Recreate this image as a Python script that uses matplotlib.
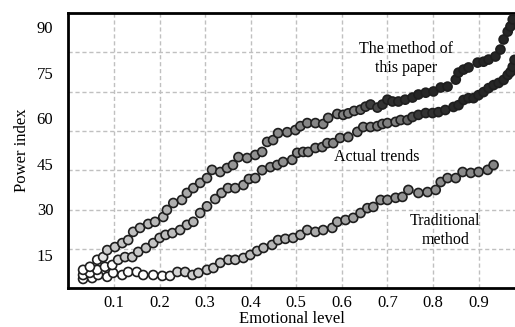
import matplotlib
matplotlib.use("Agg")
import matplotlib.pyplot as plt
import numpy as np
from matplotlib.colors import LinearSegmentedColormap, Normalize

plt.rcParams['font.family'] = ['Liberation Serif', 'DejaVu Serif']

# data
method_x = [0.032, 0.047, 0.063, 0.076, 0.085, 0.102, 0.118, 0.131, 0.142, 0.157,
            0.175, 0.190, 0.208, 0.216, 0.230, 0.249, 0.260, 0.274, 0.289, 0.304,
            0.315, 0.333, 0.348, 0.361, 0.373, 0.392, 0.410, 0.425, 0.436, 0.449,
            0.460, 0.480, 0.498, 0.509, 0.524, 0.542, 0.559, 0.570, 0.590, 0.603,
            0.614, 0.627, 0.641, 0.652, 0.663, 0.678, 0.689, 0.700, 0.711, 0.724,
            0.739, 0.755, 0.768, 0.784, 0.801, 0.817, 0.832, 0.850, 0.856, 0.867,
            0.878, 0.898, 0.911, 0.922, 0.937, 0.948, 0.955, 0.964, 0.970, 0.975]
method_y = [10.1, 11.1, 13.4, 14.3, 16.6, 17.6, 18.9, 19.9, 22.6, 23.9,
            25.2, 25.9, 27.5, 29.8, 32.1, 33.1, 35.4, 37.0, 38.7, 40.3,
            43.0, 42.3, 43.6, 44.6, 47.2, 46.9, 47.9, 48.9, 52.2, 52.8,
            55.1, 55.4, 56.1, 57.4, 58.4, 58.4, 58.1, 60.1, 61.4, 61.1,
            61.6, 62.4, 62.8, 63.8, 64.5, 63.5, 64.5, 66.1, 65.5, 65.5,
            66.1, 66.8, 67.8, 68.4, 68.8, 70.1, 70.4, 72.7, 75.0, 76.0,
            76.7, 78.3, 78.6, 79.3, 80.3, 82.6, 85.9, 88.5, 90.2, 92.5]

actual_x = [0.032, 0.047, 0.063, 0.080, 0.096, 0.109, 0.124, 0.140, 0.153, 0.170,
            0.186, 0.200, 0.213, 0.228, 0.245, 0.260, 0.274, 0.289, 0.304, 0.322,
            0.336, 0.350, 0.366, 0.384, 0.396, 0.410, 0.425, 0.443, 0.458, 0.471,
            0.491, 0.502, 0.515, 0.526, 0.542, 0.557, 0.568, 0.581, 0.596, 0.614,
            0.634, 0.647, 0.663, 0.678, 0.689, 0.700, 0.718, 0.729, 0.744, 0.755,
            0.768, 0.784, 0.799, 0.812, 0.827, 0.845, 0.856, 0.867, 0.878, 0.889,
            0.900, 0.911, 0.922, 0.933, 0.944, 0.955, 0.964, 0.970, 0.975, 0.979]
actual_y = [8.4, 9.1, 10.1, 11.1, 11.7, 13.4, 14.3, 14.3, 16.0, 17.3,
            18.9, 20.6, 21.6, 22.2, 23.2, 24.9, 25.9, 28.8, 31.0, 33.4,
            35.4, 37.0, 37.0, 38.0, 40.0, 40.3, 42.9, 43.9, 44.6, 45.6,
            46.3, 48.6, 48.9, 48.9, 50.2, 50.5, 51.8, 51.8, 53.5, 53.8,
            55.5, 57.1, 57.1, 57.4, 58.1, 58.4, 58.8, 59.4, 59.4, 60.4,
            61.1, 61.7, 61.7, 62.0, 62.7, 63.7, 64.3, 66.0, 66.6, 66.6,
            67.6, 68.6, 69.9, 70.9, 71.6, 72.6, 74.2, 75.2, 76.9, 79.2]

trad_x = [0.032, 0.052, 0.065, 0.085, 0.098, 0.118, 0.131, 0.150, 0.164, 0.186,
          0.206, 0.223, 0.239, 0.256, 0.272, 0.285, 0.304, 0.318, 0.333, 0.351,
          0.366, 0.384, 0.399, 0.414, 0.428, 0.447, 0.460, 0.476, 0.493, 0.509,
          0.524, 0.542, 0.559, 0.579, 0.590, 0.608, 0.625, 0.641, 0.656, 0.669,
          0.685, 0.700, 0.718, 0.733, 0.746, 0.768, 0.788, 0.806, 0.817, 0.832,
          0.850, 0.865, 0.883, 0.900, 0.920, 0.933]
trad_y = [7.1, 7.4, 8.4, 7.8, 9.1, 8.4, 9.4, 9.4, 8.4, 8.4,
          8.1, 8.1, 9.4, 9.4, 8.4, 9.1, 10.1, 10.7, 12.4, 13.4,
          13.4, 14.0, 15.0, 16.3, 17.3, 18.3, 19.9, 20.3, 20.6, 21.6,
          23.2, 22.6, 23.2, 23.9, 25.9, 26.5, 27.2, 28.8, 30.4, 30.8,
          33.1, 33.1, 33.8, 34.1, 36.4, 35.4, 35.7, 36.4, 39.0, 40.3,
          40.3, 42.3, 42.0, 42.3, 43.0, 44.6]

x_ticks = [0.1, 0.2, 0.3, 0.4, 0.5, 0.6, 0.7, 0.8, 0.9]
y_ticks = [15, 30, 45, 60, 75, 90]

# marker fill: white -> gray -> near black
shade = LinearSegmentedColormap.from_list('shade', [
    (0.00, (1, 1, 1)),
    (0.03, (1, 1, 1)),
    (0.06, (0.80, 0.80, 0.80)),
    (0.30, (0.70, 0.70, 0.70)),
    (0.55, (0.58, 0.58, 0.58)),
    (0.87, (0.50, 0.50, 0.50)),
    (0.92, (0.20, 0.20, 0.20)),
    (1.00, (0.15, 0.15, 0.15)),
])
norm = Normalize(vmin=13, vmax=95)

fig = plt.figure(figsize=(5.15, 3.27), dpi=100)
ax = fig.add_axes([0.133, 0.119, 0.867, 0.841])

for xs, ys in [(trad_x, trad_y), (actual_x, actual_y), (method_x, method_y)]:
    xs = np.array(xs)
    ys = np.array(ys)
    ax.scatter(xs, ys, s=42, c=shade(norm(ys + 35 * xs)), edgecolors='#1e1e1e',
               linewidths=1.2, zorder=3)

ax.set_xlim(0, 0.98)
ax.set_ylim(4.1, 94.6)
ax.set_xticks(x_ticks)
ax.set_xticklabels([str(t) for t in x_ticks])
ax.set_yticks(y_ticks)
ax.set_yticks(np.linspace(4.1, 94.6, 8)[1:-1], minor=True)
ax.tick_params(axis='both', which='both', length=0, labelsize=12)
ax.tick_params(axis='x', pad=5)
ax.tick_params(axis='y', pad=11)
ax.xaxis.grid(True, which='major', color='#c0c0c0', linestyle=(0, (3, 2)), linewidth=1)
ax.yaxis.grid(True, which='minor', color='#c0c0c0', linestyle=(0, (3, 2)), linewidth=1)
ax.set_axisbelow(True)

for side in ['left', 'top', 'bottom']:
    ax.spines[side].set_linewidth(2)
ax.spines['right'].set_visible(False)

ax.set_xlabel('Emotional level', fontsize=12, labelpad=0)
ax.set_ylabel('Power index', fontsize=12, labelpad=5)

ax.text(0.74, 79.8, 'The method of\nthis paper', fontsize=11.5, ha='center', va='center', linespacing=1.25)
ax.text(0.676, 47.2, 'Actual trends', fontsize=11.5, ha='center', va='center')
ax.text(0.827, 23.2, 'Traditional\nmethod', fontsize=11.5, ha='center', va='center', linespacing=1.25)

fig.savefig('out.png', dpi=100)
